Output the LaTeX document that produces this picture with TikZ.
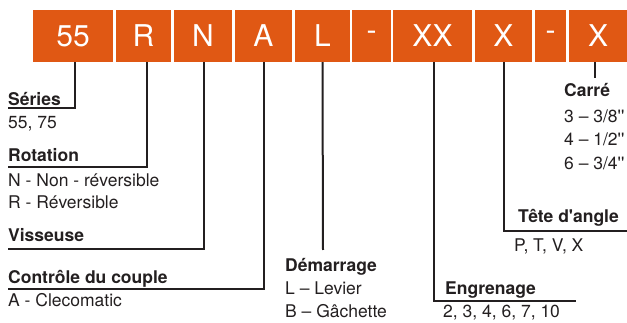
\documentclass[tikz,border=0pt]{standalone}
\usepackage{fontspec}
\setmainfont{TeX Gyre Heros}
\usepackage{tikz}
\definecolor{codeorange}{RGB}{224,88,20}
\definecolor{codeline}{RGB}{35,31,32}

\begin{document}
\begin{tikzpicture}[
  x=1pt, y=-1pt,
  digit/.style={fill=codeorange, text=white, inner sep=0pt, minimum height=52pt,
    font=\fontsize{30}{30}\selectfont},
  head/.style={anchor=base west, inner sep=0pt, text=codeline,
    font=\fontsize{17.5}{22}\selectfont\bfseries},
  body/.style={anchor=base west, inner sep=0pt, text=codeline,
    font=\fontsize{17.5}{22}\selectfont},
  link/.style={draw=codeline, line width=2pt}]
  \useasboundingbox (0,0) rectangle (627,323);
  % boxes of the code
  \foreach \n/\a/\b/\t in {b1/33/113/55, b2/116/171/R, b3/174/232/N, b4/235/292/A,
    b5/295/350/L, b6/352/391/-, b7/393/472/XX, b8/475/532/X, b9/535/566/-, b10/569/627/X}
    \node[digit, minimum width=\b pt-\a pt] (\n) at ({(\a+\b)/2},36) {\t};
  % labels
  \node[head] (serie) at (8,106) {Séries};
  \node[body] (serie-v) at (8,129) {55, 75};
  \node[head] (rot) at (8,162) {Rotation};
  \node[body] (rot-n) at (8,187) {N - Non - réversible};
  \node[body] (rot-r) at (8,209) {R - Réversible};
  \node[head] (vis) at (8,242) {Visseuse};
  \node[head] (ctrl) at (8,284) {Contrôle du couple};
  \node[body] (ctrl-v) at (8,307) {A - Clecomatic};
  \node[head] (dem) at (285,272) {Démarrage};
  \node[body] (dem-l) at (285,295) {L – Levier};
  \node[body] (dem-b) at (285,317) {B – Gâchette};
  \node[head] (eng) at (445,295) {Engrenage};
  \node[body] (eng-v) at (443,317) {2, 3, 4, 6, 7, 10};
  \node[head] (tete) at (518,223) {Tête d\textquotesingle angle};
  \node[body] (tete-v) at (514,252) {P, T, V, X};
  \node[head] (carre) at (564,97) {Carré};
  \foreach \y/\t in {123/{3 – 3/8}, 146/{4 – 1/2}, 170/{6 – 3/4}}
    \node[body] at (564,\y) {\t\textquotesingle\textquotesingle};
  % connectors
  \coordinate (c1) at (8,108);
  \coordinate (c2) at (8,167);
  \coordinate (c3) at (8,249);
  \coordinate (c4) at (8,289);
  \coordinate (c5) at (323,250);
  \coordinate (c7) at (576,301);
  \coordinate (c8) at (627,231);
  \coordinate (c10) at (595,78);
  \draw[link] ([xshift=2pt]b1.south) |- (c1);
  \draw[link] ([xshift=3pt]b2.south) |- (c2);
  \draw[link] ([xshift=1pt]b3.south) |- (c3);
  \draw[link] (b4.south) |- (c4);
  \draw[link] (b5.south) -- (c5);
  \draw[link] ([xshift=1pt]b7.south) |- (c7);
  \draw[link] (b8.south) |- (c8);
  \draw[link] (b10.south -| c10) -- (c10);
\end{tikzpicture}
\end{document}
